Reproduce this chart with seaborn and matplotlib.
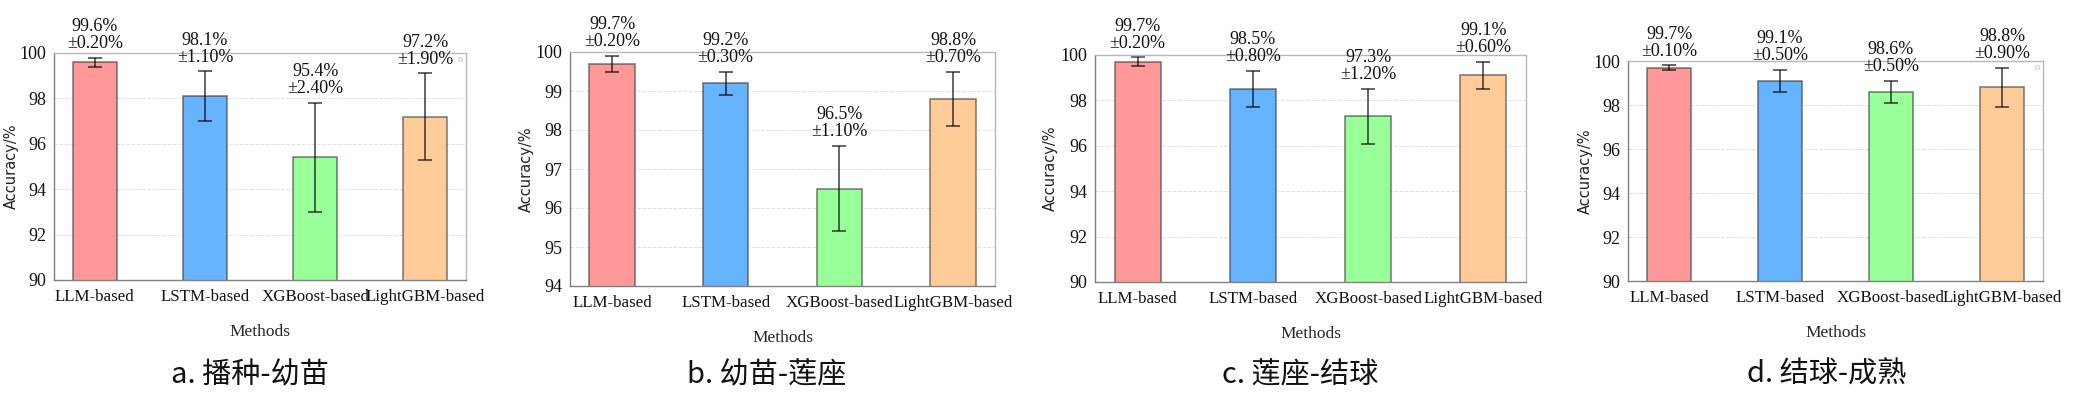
import numpy as np
import pandas as pd
import matplotlib
matplotlib.use("Agg")
import matplotlib.pyplot as plt
import seaborn as sns

# ---------------------------------------------------------------
# Données
# ---------------------------------------------------------------
methods = ["LLM-based", "LSTM-based", "XGBoost-based", "LightGBM-based"]
bar_colors = ["#ff9999", "#66b3ff", "#99ff99", "#ffcc99"]

acc_a = [99.6, 98.1, 95.4, 97.2]
std_a = [0.20, 1.10, 2.40, 1.90]
acc_b = [99.7, 99.2, 96.5, 98.8]
std_b = [0.20, 0.30, 1.10, 0.70]
acc_c = [99.7, 98.5, 97.3, 99.1]
std_c = [0.20, 0.80, 1.20, 0.60]
acc_d = [99.7, 99.1, 98.6, 98.8]
std_d = [0.10, 0.50, 0.50, 0.90]

captions = ["a. 播种-幼苗", "b. 幼苗-莲座", "c. 莲座-结球", "d. 结球-成熟"]
ylims = [(90, 100), (94, 100), (90, 100), (90, 100)]
ysteps = [2, 1, 2, 2]

# ---------------------------------------------------------------
# Style
# ---------------------------------------------------------------
sns.set_theme(style="white")
plt.rcParams['font.family'] = ['Liberation Serif', 'DejaVu Serif']
plt.rcParams['axes.linewidth'] = 1.0
plt.rcParams['xtick.color'] = '#707070'
plt.rcParams['ytick.color'] = '#707070'
plt.rcParams['xtick.labelcolor'] = '#111111'
plt.rcParams['ytick.labelcolor'] = '#111111'

W, H = 2088, 393
fig = plt.figure(figsize=(W / 100, H / 100), dpi=100)

# positions des axes en pixels : gauche, droite, haut, bas
boxes = [(54, 466, 53, 280), (570, 995, 52, 286), (1095, 1526, 55, 282), (1628, 2043, 61, 281)]
caption_x = [250, 767, 1300, 1827]
empty_legend = [True, False, False, True]

panels = [(acc_a, std_a), (acc_b, std_b), (acc_c, std_c), (acc_d, std_d)]

for i, (acc, std) in enumerate(panels):
    l, r, t, b = boxes[i]
    ax = fig.add_axes([l / W, 1 - b / H, (r - l) / W, (b - t) / H])

    df = pd.DataFrame({"Methods": methods, "Accuracy": acc, "Std": std})
    sns.barplot(data=df, x="Methods", y="Accuracy", hue="Methods", palette=bar_colors,
                saturation=1, width=0.4, edgecolor=(0.2, 0.2, 0.2, 0.6), linewidth=1.2,
                legend=False, errorbar=None, ax=ax)

    xs = np.arange(len(methods))
    ax.errorbar(xs, df["Accuracy"], yerr=df["Std"], fmt="none", ecolor=(0, 0, 0, 0.7),
                elinewidth=1.2, capsize=5, capthick=1.2)

    for x, v, s in zip(xs, acc, std):
        ax.annotate(f"{v:.1f}%\n±{s:.2f}%", xy=(x, v + s), xytext=(0, 4),
                    textcoords="offset points", ha="center", va="bottom",
                    fontsize=13, linespacing=1.0, color="#111111",
                    annotation_clip=False)

    lo, hi = ylims[i]
    ax.set_ylim(lo, hi)
    ax.set_yticks(np.arange(lo, hi + 0.01, ysteps[i]))
    ax.set_xlim(-0.37, 3.37)
    ax.grid(axis="y", linestyle="--", color="#e2e2e2", linewidth=0.7)
    ax.set_axisbelow(True)

    for side in ["left", "bottom"]:
        ax.spines[side].set_color("#808080")
    for side in ["top", "right"]:
        ax.spines[side].set_color("#b8b8b8")

    ax.tick_params(axis="y", labelsize=13, length=3.5, width=0.8, pad=2)
    ax.tick_params(axis="x", labelsize=12.2, length=3.5, width=0.8, pad=3)
    ax.set_xlabel("Methods", fontsize=12.5, labelpad=14)
    ax.set_ylabel("Accuracy/%", fontsize=10.5, family=['DejaVu Sans'], color="#222222")
    ax.yaxis.set_label_coords(-0.085, 0.5)

    if empty_legend[i]:
        ax.legend(handles=[], loc="upper right", frameon=True, edgecolor="#d0d0d0",
                  borderpad=0.25, fontsize=6)

    fig.text(caption_x[i] / W, 1 - 375 / H, captions[i], ha="center", va="center",
             fontsize=21, family=['Noto Sans CJK SC', 'DejaVu Sans'], color="#111111")

fig.savefig("out.png", dpi=100, facecolor="white")
